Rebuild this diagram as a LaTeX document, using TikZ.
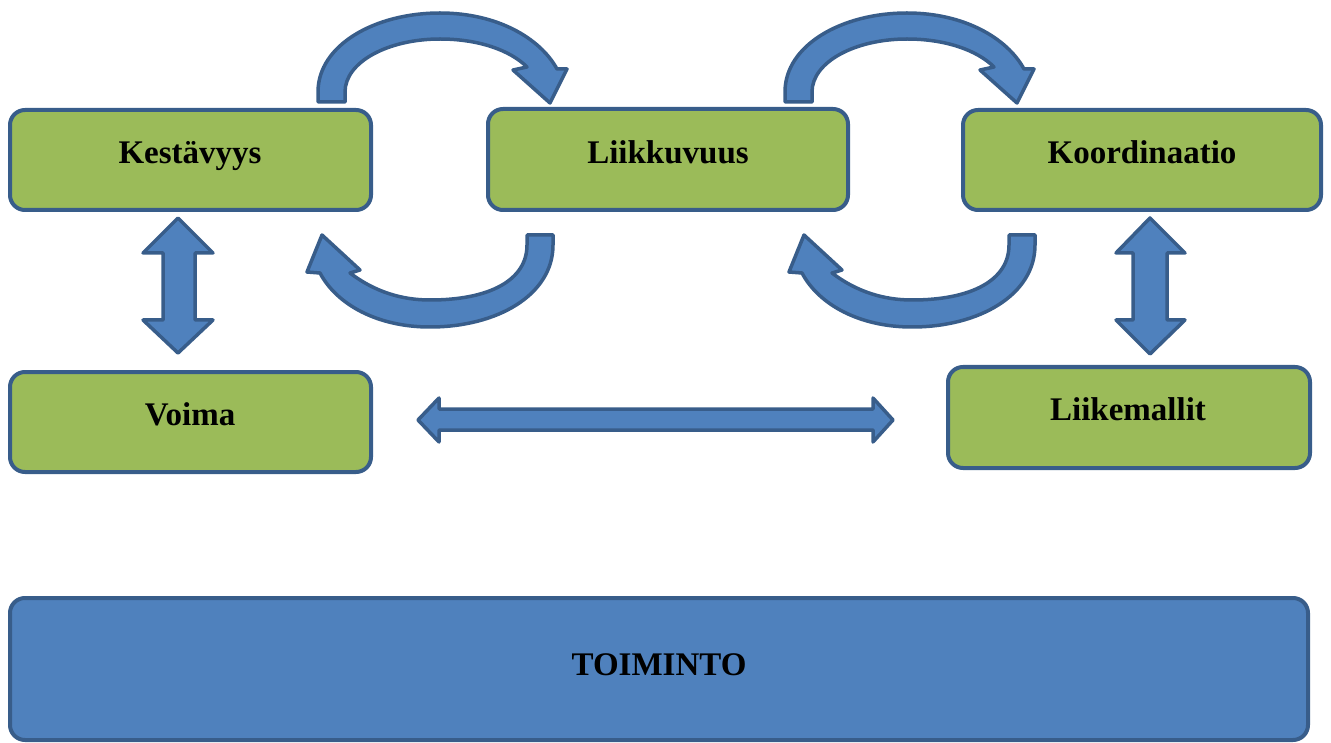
\documentclass[tikz,border=0pt]{standalone}
\usepackage{fontspec}
\setmainfont{Liberation Serif}
\definecolor{boxgreen}{HTML}{9BBB59}
\definecolor{edgeblue}{HTML}{385D8A}
\definecolor{fillblue}{HTML}{4F81BD}
\tikzset{
  greenbox/.style={draw=edgeblue, line width=4pt, fill=boxgreen, rounded corners=15pt, inner sep=0pt},
  bluebox/.style={draw=edgeblue, line width=4pt, fill=fillblue, rounded corners=15pt, inner sep=0pt},
  lbl/.style={anchor=base, font=\fontsize{33}{36}\selectfont\bfseries, text=black, inner sep=0pt},
  blockarrow/.style={draw=edgeblue, line width=3.5pt, fill=fillblue, line join=round}
}
\begin{document}
\begin{tikzpicture}[x=1pt,y=-1pt]
\useasboundingbox (0,0) rectangle (1331,743);
% boxes
\node[greenbox, minimum width=361pt, minimum height=100pt] (kes) at (190.5,160) {};
\node[greenbox, minimum width=360pt, minimum height=101pt] (lii) at (668,159.5) {};
\node[greenbox, minimum width=358pt, minimum height=100pt] (koo) at (1142,160) {};
\node[greenbox, minimum width=361pt, minimum height=100pt] (voi) at (190.5,422) {};
\node[greenbox, minimum width=362pt, minimum height=101pt] (lm) at (1129,417.5) {};
\node[bluebox, minimum width=1298pt, minimum height=142pt] (toi) at (659,669) {};
% labels
\node[lbl] (kesT) at (190,164) {Kestävyys};
\node[lbl] (liiT) at (668,164) {Liikkuvuus};
\node[lbl] (kooT) at (1142,164) {Koordinaatio};
\node[lbl] (voiT) at (190,425) {Voima};
\node[lbl] (lmT) at (1128,420) {Liikemallit};
\node[lbl] (toiT) at (659,675) {TOIMINTO};
% top curved arrows
\foreach \dx in {0,467}{
\begin{scope}[xshift=\dx]
\path[blockarrow] (318,102) -- (318,92) .. controls (318,45) and (375,13) .. (440,13)
  .. controls (497,13) and (540,38) .. (557,69) -- (567,69) -- (550,103) -- (513,70) -- (527,67)
  .. controls (510,50) and (478,39) .. (440,39) .. controls (388,39) and (345,62) .. (345,92)
  -- (345,102) -- cycle;
\end{scope}}
% bottom curved arrows
\foreach \dx in {0,482}{
\begin{scope}[xshift=\dx]
\path[blockarrow] (553,235) -- (553,245) .. controls (553,295) and (497,327) .. (430,327)
  .. controls (378,327) and (337,305) .. (320,273) -- (307,272) -- (322,235) -- (360,270) -- (350,273)
  .. controls (375,292) and (402,300) .. (430,300) .. controls (490,300) and (527,280) .. (527,245)
  -- (527,235) -- cycle;
\end{scope}}
% vertical double arrows
\path[blockarrow] (178,218) -- (213,253) -- (195,253) -- (195,320) -- (213,320) -- (178,353)
  -- (143,320) -- (163,320) -- (163,253) -- (143,253) -- cycle;
\path[blockarrow] (1150,218) -- (1185,253) -- (1167,253) -- (1167,320) -- (1185,320) -- (1150,354)
  -- (1116,320) -- (1133,320) -- (1133,253) -- (1116,253) -- cycle;
% horizontal double arrow
\path[blockarrow] (418,420) -- (439,398) -- (439,409) -- (873,409) -- (873,398) -- (893,420)
  -- (873,442) -- (873,430) -- (439,430) -- (439,442) -- cycle;
\end{tikzpicture}
\end{document}
